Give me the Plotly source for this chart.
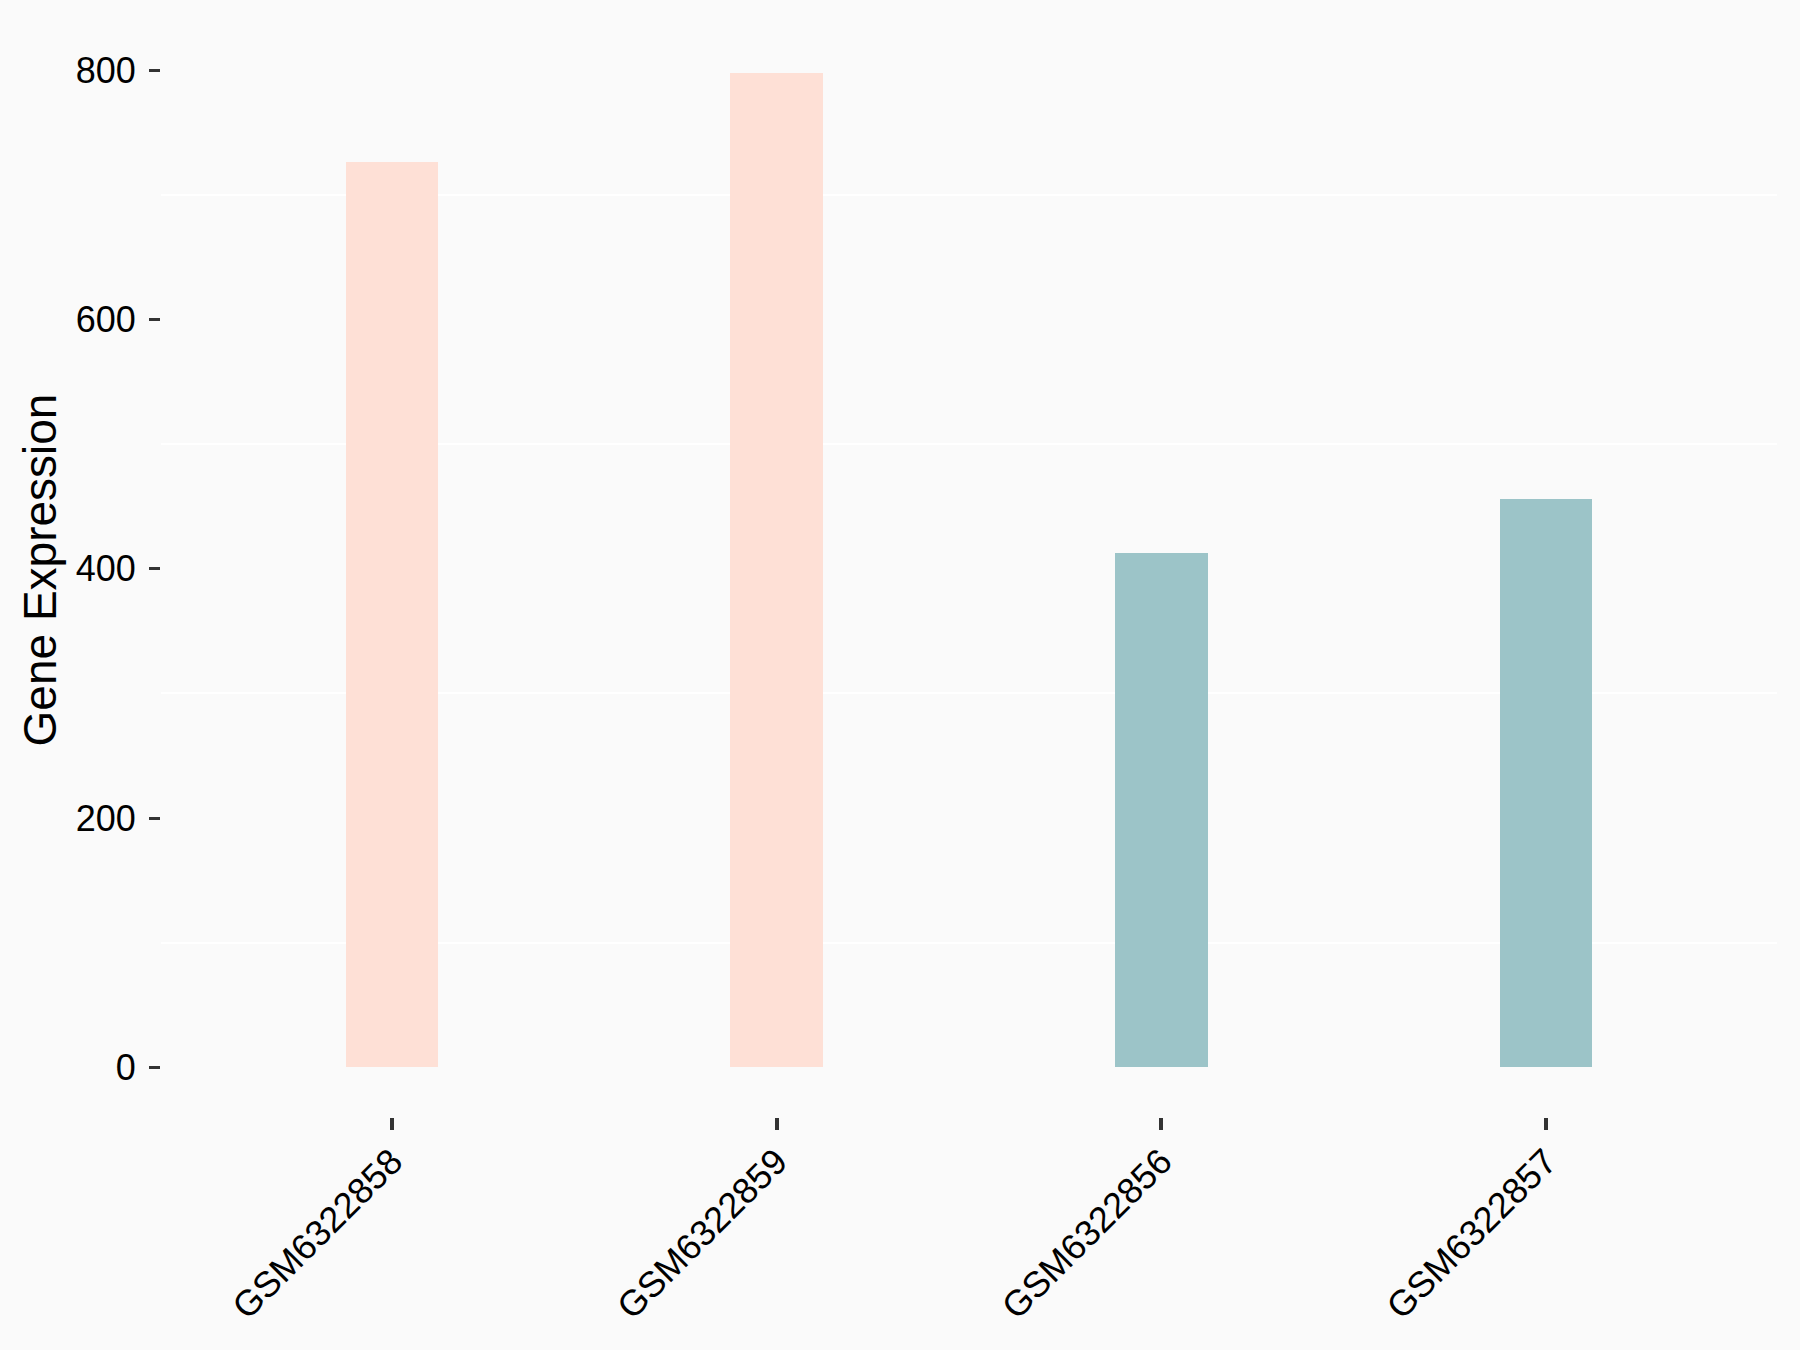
import plotly.graph_objects as go

samples = ["GSM6322858", "GSM6322859", "GSM6322856", "GSM6322857"]
expression = [726, 798, 413, 456]
bar_colors = ["#FEE0D6", "#FEE0D6", "#9CC4C8", "#9CC4C8"]
y_ticks = [0, 200, 400, 600, 800]

FONT = "Liberation Sans, Arial, sans-serif"
ymax = max(expression)

fig = go.Figure(
    go.Bar(
        x=samples,
        y=expression,
        marker=dict(color=bar_colors, line=dict(width=0)),
        width=0.24,
        showlegend=False,
    )
)

fig.update_layout(
    width=1800,
    height=1350,
    margin=dict(l=161, r=23, t=23, b=233),
    paper_bgcolor="#FAFAFA",
    plot_bgcolor="#FAFAFA",
    font=dict(family=FONT, color="black"),
    bargap=0,
)

fig.update_xaxes(
    type="category",
    categoryorder="array",
    categoryarray=samples,
    range=[-0.6, len(samples) - 0.4],
    showgrid=False,
    zeroline=False,
    showline=False,
    ticks="outside",
    ticklen=12,
    tickwidth=4,
    tickcolor="#333333",
    tickangle=-45,
    tickfont=dict(size=36, family=FONT, color="black"),
    ticklabelstandoff=-4,
)

fig.update_yaxes(
    range=[-0.05 * ymax, 1.05 * ymax],
    tickvals=y_ticks,
    ticktext=[str(v) for v in y_ticks],
    showgrid=False,
    zeroline=False,
    showline=False,
    ticks="outside",
    ticklen=11,
    tickwidth=3,
    tickcolor="#333333",
    tickfont=dict(size=36, family=FONT, color="black"),
    ticklabelstandoff=6,
    minor=dict(dtick=200, tick0=100, showgrid=True, gridcolor="#FFFFFF", gridwidth=2, ticks=""),
    title=dict(text="Gene Expression", font=dict(size=46, family=FONT, color="black"), standoff=4),
)

fig.write_html(
    "out.html",
    config={"displayModeBar": False},
    post_script="document.body.style.margin='0';document.body.style.background='#FAFAFA';",
)
